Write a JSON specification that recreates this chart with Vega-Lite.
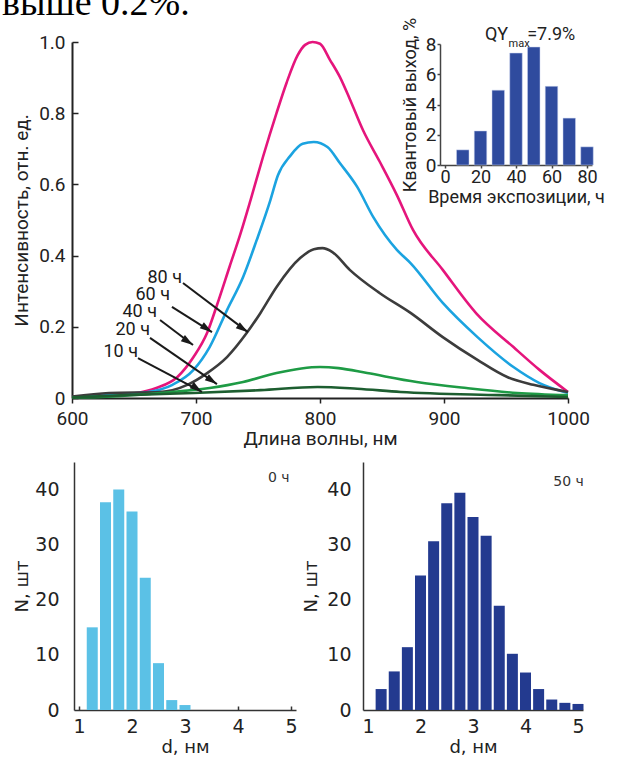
{
  "$schema": "https://vega.github.io/schema/vega-lite/v6.json",
  "autosize": {"type": "none"},
  "padding": 0,
  "width": 617,
  "height": 758,
  "background": "white",
  "config": {
    "view": {"stroke": null},
    "axis": {"grid": false, "titleFontWeight": "normal", "labelColor": "#222", "titleColor": "#222", "domainColor": "#222", "tickColor": "#222"}
  },
  "datasets": {
    "spectra": [
      {"t": "40 ч", "wl": 600, "I": 0.003}, {"t": "40 ч", "wl": 630, "I": 0.008}, {"t": "40 ч", "wl": 652, "I": 0.014}, {"t": "40 ч", "wl": 668, "I": 0.028}, {"t": "40 ч", "wl": 685, "I": 0.059}, {"t": "40 ч", "wl": 698, "I": 0.115}, {"t": "40 ч", "wl": 709, "I": 0.183}, {"t": "40 ч", "wl": 717, "I": 0.262}, {"t": "40 ч", "wl": 727, "I": 0.368}, {"t": "40 ч", "wl": 736, "I": 0.463}, {"t": "40 ч", "wl": 744, "I": 0.556}, {"t": "40 ч", "wl": 754, "I": 0.677}, {"t": "40 ч", "wl": 765, "I": 0.801}, {"t": "40 ч", "wl": 773, "I": 0.885}, {"t": "40 ч", "wl": 782, "I": 0.963}, {"t": "40 ч", "wl": 788, "I": 0.992}, {"t": "40 ч", "wl": 794, "I": 1.0}, {"t": "40 ч", "wl": 800, "I": 0.995}, {"t": "40 ч", "wl": 808, "I": 0.95}, {"t": "40 ч", "wl": 816, "I": 0.902}, {"t": "40 ч", "wl": 824, "I": 0.84}, {"t": "40 ч", "wl": 835, "I": 0.75}, {"t": "40 ч", "wl": 848, "I": 0.665}, {"t": "40 ч", "wl": 862, "I": 0.57}, {"t": "40 ч", "wl": 875, "I": 0.472}, {"t": "40 ч", "wl": 899, "I": 0.36}, {"t": "40 ч", "wl": 926, "I": 0.238}, {"t": "40 ч", "wl": 956, "I": 0.143}, {"t": "40 ч", "wl": 977, "I": 0.079}, {"t": "40 ч", "wl": 1000, "I": 0.017},
      {"t": "60 ч", "wl": 600, "I": 0.003}, {"t": "60 ч", "wl": 630, "I": 0.008}, {"t": "60 ч", "wl": 644, "I": 0.012}, {"t": "60 ч", "wl": 660, "I": 0.016}, {"t": "60 ч", "wl": 681, "I": 0.037}, {"t": "60 ч", "wl": 698, "I": 0.079}, {"t": "60 ч", "wl": 711, "I": 0.143}, {"t": "60 ч", "wl": 725, "I": 0.247}, {"t": "60 ч", "wl": 738, "I": 0.34}, {"t": "60 ч", "wl": 749, "I": 0.444}, {"t": "60 ч", "wl": 760, "I": 0.556}, {"t": "60 ч", "wl": 766, "I": 0.625}, {"t": "60 ч", "wl": 776, "I": 0.68}, {"t": "60 ч", "wl": 786, "I": 0.714}, {"t": "60 ч", "wl": 795, "I": 0.719}, {"t": "60 ч", "wl": 806, "I": 0.705}, {"t": "60 ч", "wl": 816, "I": 0.66}, {"t": "60 ч", "wl": 830, "I": 0.593}, {"t": "60 ч", "wl": 843, "I": 0.508}, {"t": "60 ч", "wl": 862, "I": 0.416}, {"t": "60 ч", "wl": 873, "I": 0.379}, {"t": "60 ч", "wl": 899, "I": 0.267}, {"t": "60 ч", "wl": 927, "I": 0.171}, {"t": "60 ч", "wl": 956, "I": 0.087}, {"t": "60 ч", "wl": 977, "I": 0.042}, {"t": "60 ч", "wl": 1000, "I": 0.014},
      {"t": "80 ч", "wl": 600, "I": 0.004}, {"t": "80 ч", "wl": 630, "I": 0.014}, {"t": "80 ч", "wl": 671, "I": 0.017}, {"t": "80 ч", "wl": 693, "I": 0.037}, {"t": "80 ч", "wl": 709, "I": 0.07}, {"t": "80 ч", "wl": 725, "I": 0.115}, {"t": "80 ч", "wl": 741, "I": 0.183}, {"t": "80 ч", "wl": 752, "I": 0.239}, {"t": "80 ч", "wl": 765, "I": 0.312}, {"t": "80 ч", "wl": 784, "I": 0.393}, {"t": "80 ч", "wl": 795, "I": 0.418}, {"t": "80 ч", "wl": 802, "I": 0.421}, {"t": "80 ч", "wl": 810, "I": 0.41}, {"t": "80 ч", "wl": 824, "I": 0.36}, {"t": "80 ч", "wl": 848, "I": 0.295}, {"t": "80 ч", "wl": 873, "I": 0.239}, {"t": "80 ч", "wl": 899, "I": 0.171}, {"t": "80 ч", "wl": 927, "I": 0.107}, {"t": "80 ч", "wl": 951, "I": 0.059}, {"t": "80 ч", "wl": 972, "I": 0.037}, {"t": "80 ч", "wl": 1000, "I": 0.017},
      {"t": "20 ч", "wl": 600, "I": 0.001}, {"t": "20 ч", "wl": 640, "I": 0.006}, {"t": "20 ч", "wl": 671, "I": 0.014}, {"t": "20 ч", "wl": 711, "I": 0.028}, {"t": "20 ч", "wl": 738, "I": 0.045}, {"t": "20 ч", "wl": 765, "I": 0.07}, {"t": "20 ч", "wl": 785, "I": 0.083}, {"t": "20 ч", "wl": 800, "I": 0.087}, {"t": "20 ч", "wl": 815, "I": 0.084}, {"t": "20 ч", "wl": 838, "I": 0.07}, {"t": "20 ч", "wl": 878, "I": 0.045}, {"t": "20 ч", "wl": 918, "I": 0.028}, {"t": "20 ч", "wl": 959, "I": 0.014}, {"t": "20 ч", "wl": 1000, "I": 0.008},
      {"t": "10 ч", "wl": 600, "I": 0.001}, {"t": "10 ч", "wl": 644, "I": 0.008}, {"t": "10 ч", "wl": 698, "I": 0.014}, {"t": "10 ч", "wl": 752, "I": 0.022}, {"t": "10 ч", "wl": 798, "I": 0.031}, {"t": "10 ч", "wl": 830, "I": 0.026}, {"t": "10 ч", "wl": 865, "I": 0.017}, {"t": "10 ч", "wl": 945, "I": 0.008}, {"t": "10 ч", "wl": 1000, "I": 0.003}
    ],
    "arrows": [
      {"label": "80 ч", "lx": 688.7, "ly": 0.337, "x1": 689.5, "y1": 0.323, "x2": 741.9, "y2": 0.185},
      {"label": "60 ч", "lx": 679.0, "ly": 0.289, "x1": 680.6, "y1": 0.256, "x2": 712.9, "y2": 0.185},
      {"label": "40 ч", "lx": 668.5, "ly": 0.242, "x1": 671.0, "y1": 0.219, "x2": 697.6, "y2": 0.149},
      {"label": "20 ч", "lx": 662.9, "ly": 0.191, "x1": 662.9, "y1": 0.169, "x2": 716.9, "y2": 0.039},
      {"label": "10 ч", "lx": 653.2, "ly": 0.129, "x1": 653.2, "y1": 0.112, "x2": 704.8, "y2": 0.017}
    ],
    "qy": [
      {"t": 10, "qy": 1.0}, {"t": 20, "qy": 2.25}, {"t": 30, "qy": 4.95}, {"t": 40, "qy": 7.4},
      {"t": 50, "qy": 7.8}, {"t": 60, "qy": 5.2}, {"t": 70, "qy": 3.1}, {"t": 80, "qy": 1.2}
    ],
    "hist0": [
      {"d": 1.25, "n": 15}, {"d": 1.5, "n": 37.7}, {"d": 1.75, "n": 40}, {"d": 2.0, "n": 36},
      {"d": 2.25, "n": 24}, {"d": 2.5, "n": 8.5}, {"d": 2.75, "n": 1.8}, {"d": 3.0, "n": 0.9}
    ],
    "hist50": [
      {"d": 1.25, "n": 3.8}, {"d": 1.5, "n": 7}, {"d": 1.75, "n": 11.4}, {"d": 2.0, "n": 24.4},
      {"d": 2.25, "n": 30.6}, {"d": 2.5, "n": 37.5}, {"d": 2.75, "n": 39.4}, {"d": 3.0, "n": 35},
      {"d": 3.25, "n": 31.6}, {"d": 3.5, "n": 18.9}, {"d": 3.75, "n": 10.2}, {"d": 4.0, "n": 6.8},
      {"d": 4.25, "n": 3.8}, {"d": 4.5, "n": 1.9}, {"d": 4.75, "n": 1.3}, {"d": 5.0, "n": 1.1}
    ]
  },
  "layer": [
    {
      "layer": [
        {
          "data": {"name": "spectra"},
          "mark": {"type": "line", "interpolate": "monotone", "strokeWidth": 2.6},
          "encoding": {
            "x": {"field": "wl", "type": "quantitative",
              "scale": {"domain": [600, 1000], "range": [72, 568], "nice": false, "zero": false},
              "axis": {"title": "Длина волны, нм", "orient": "bottom", "offset": -360, "values": [600, 700, 800, 900, 1000], "format": "d",
                "labelFlush": false, "domainWidth": 2, "tickWidth": 1.5, "tickSize": 5, "labelPadding": 6,
                "labelFont": "Roboto", "labelFontSize": 19, "titleFont": "Roboto", "titleFontSize": 19, "titlePadding": 1}},
            "y": {"field": "I", "type": "quantitative",
              "scale": {"domain": [0, 1], "range": [398, 42], "nice": false},
              "axis": {"title": "Интенсивность, отн. ед.", "orient": "left", "offset": -72, "values": [0, 0.2, 0.4, 0.6, 0.8, 1.0],
                "labelExpr": "datum.value == 0 ? '0' : format(datum.value, '.1f')",
                "domainWidth": 2, "tickWidth": 1.5, "tickSize": -6, "labelPadding": 13,
                "labelFont": "Roboto", "labelFontSize": 19, "titleFont": "Roboto", "titleFontSize": 19, "titlePadding": 7}},
            "color": {"field": "t", "type": "nominal",
              "scale": {"domain": ["40 ч", "60 ч", "80 ч", "20 ч", "10 ч"], "range": ["#e5157c", "#1ba3e0", "#3c3c3c", "#1e9b45", "#1d5e30"]},
              "legend": null}
          }
        },
        {
          "data": {"name": "arrows"},
          "mark": {"type": "rule", "color": "#1a1a1a", "strokeWidth": 2},
          "encoding": {
            "x": {"field": "x1", "type": "quantitative"},
            "y": {"field": "y1", "type": "quantitative"},
            "x2": {"field": "x2"},
            "y2": {"field": "y2"}
          }
        },
        {
          "data": {"name": "arrows"},
          "mark": {"type": "point", "shape": "M0,0L0.6,2L-0.6,2Z", "filled": true, "color": "#1a1a1a", "opacity": 1, "size": 150, "angle": 124},
          "encoding": {
            "x": {"field": "x2", "type": "quantitative"},
            "y": {"field": "y2", "type": "quantitative"}
          }
        },
        {
          "data": {"name": "arrows"},
          "mark": {"type": "text", "align": "right", "baseline": "middle", "font": "Roboto", "fontSize": 18, "color": "#1a1a1a"},
          "encoding": {
            "x": {"field": "lx", "type": "quantitative"},
            "y": {"field": "ly", "type": "quantitative"},
            "text": {"field": "label"}
          }
        },
        {
          "data": {"values": [{"text": "выше 0.2%.", "wl": 543.5, "I": 1.076}]},
          "mark": {"type": "text", "align": "left", "baseline": "alphabetic", "font": "Liberation Serif", "fontSize": 38, "color": "#000"},
          "encoding": {
            "x": {"field": "wl", "type": "quantitative"},
            "y": {"field": "I", "type": "quantitative"},
            "text": {"field": "text"}
          }
        }
      ]
    },
    {
      "layer": [
        {
          "data": {"name": "qy"},
          "mark": {"type": "bar", "width": 12.5, "color": "#2f4b9e", "stroke": "#c9d3ee", "strokeWidth": 0.5},
          "encoding": {
            "x": {"field": "t", "type": "quantitative",
              "scale": {"domain": [0, 80], "range": [440, 592], "nice": false},
              "axis": {"title": "Время экспозиции, ч", "orient": "bottom", "offset": -593, "values": [0, 20, 40, 60, 80], "format": "d",
                "labelFlush": false, "domainColor": "#444", "tickColor": "#444", "domainWidth": 1.5, "tickWidth": 1.5, "tickSize": 3, "labelPadding": 0,
                "labelFont": "Roboto", "labelFontSize": 18, "titleFont": "Roboto", "titleFontSize": 18, "titlePadding": 2}},
            "y": {"field": "qy", "type": "quantitative",
              "scale": {"domain": [0, 8], "range": [165, 44], "nice": false},
              "axis": {"title": "Квантовый выход, %", "orient": "left", "offset": -440, "values": [0, 2, 4, 6, 8], "format": "d",
                "domainColor": "#444", "tickColor": "#444", "domainWidth": 1.5, "tickWidth": 1.5, "tickSize": 3, "labelPadding": 1,
                "labelFont": "Roboto", "labelFontSize": 19, "titleFont": "Roboto", "titleFontSize": 18, "titlePadding": 6}}
          }
        },
        {
          "data": {"values": [{"txt": "QY", "x": 22.6, "y": 8.26}, {"txt": "=7.9%", "x": 46.3, "y": 8.26}]},
          "mark": {"type": "text", "align": "left", "baseline": "alphabetic", "font": "Roboto", "fontSize": 18, "color": "#222"},
          "encoding": {
            "x": {"field": "x", "type": "quantitative"},
            "y": {"field": "y", "type": "quantitative"},
            "text": {"field": "txt"}
          }
        },
        {
          "data": {"values": [{"txt": "max", "x": 35.8, "y": 7.8}]},
          "mark": {"type": "text", "align": "left", "baseline": "alphabetic", "font": "Roboto", "fontSize": 11, "color": "#222"},
          "encoding": {
            "x": {"field": "x", "type": "quantitative"},
            "y": {"field": "y", "type": "quantitative"},
            "text": {"field": "txt"}
          }
        }
      ]
    },
    {
      "layer": [
        {
          "data": {"name": "hist0"},
          "mark": {"type": "bar", "width": 11, "color": "#5bc1e6"},
          "encoding": {
            "x": {"field": "d", "type": "quantitative",
              "scale": {"domain": [1, 5], "range": [74, 296], "nice": false, "zero": false},
              "axis": {"title": "d, нм", "orient": "bottom", "offset": -48, "values": [1, 2, 3, 4, 5], "format": "d",
                "labelFlush": false, "domainColor": "#333", "tickColor": "#333", "domainWidth": 1.5, "tickWidth": 1.5, "tickSize": -4, "labelPadding": 11,
                "labelFont": "DejaVu Sans", "labelFontSize": 19, "titleFont": "DejaVu Sans", "titleFontSize": 18, "titlePadding": 2}},
            "y": {"field": "n", "type": "quantitative",
              "scale": {"domain": [0, 45], "range": [710, 462], "nice": false},
              "axis": {"title": "N, шт", "orient": "left", "offset": -74, "values": [0, 10, 20, 30, 40], "format": "d", "ticks": false,
                "domainColor": "#333", "domainWidth": 1.5, "labelPadding": 15,
                "labelFont": "DejaVu Sans", "labelFontSize": 19, "titleFont": "DejaVu Sans", "titleFontSize": 18, "titlePadding": 3}}
          }
        },
        {
          "data": {"values": [{"txt": "0 ч", "x": 4.77, "y": 42.1}]},
          "mark": {"type": "text", "align": "center", "baseline": "middle", "font": "DejaVu Sans", "fontSize": 14, "color": "#333"},
          "encoding": {
            "x": {"field": "x", "type": "quantitative"},
            "y": {"field": "y", "type": "quantitative"},
            "text": {"field": "txt"}
          }
        }
      ]
    },
    {
      "layer": [
        {
          "data": {"name": "hist50"},
          "mark": {"type": "bar", "width": 11, "color": "#233a8f"},
          "encoding": {
            "x": {"field": "d", "type": "quantitative",
              "scale": {"domain": [1, 5], "range": [363, 583], "nice": false, "zero": false},
              "axis": {"title": "d, нм", "orient": "bottom", "offset": -48, "values": [1, 2, 3, 4, 5], "format": "d",
                "labelFlush": false, "domainColor": "#333", "domainWidth": 1.5, "ticks": false, "labelPadding": 7,
                "labelFont": "DejaVu Sans", "labelFontSize": 19, "titleFont": "DejaVu Sans", "titleFontSize": 18, "titlePadding": 2}},
            "y": {"field": "n", "type": "quantitative",
              "scale": {"domain": [0, 45], "range": [710, 462], "nice": false},
              "axis": {"title": "N, шт", "orient": "left", "offset": -363, "values": [0, 10, 20, 30, 40], "format": "d", "ticks": false,
                "domainColor": "#333", "domainWidth": 1.5, "labelPadding": 12,
                "labelFont": "DejaVu Sans", "labelFontSize": 19, "titleFont": "DejaVu Sans", "titleFontSize": 18, "titlePadding": 6}}
          }
        },
        {
          "data": {"values": [{"txt": "50 ч", "x": 4.82, "y": 41.4}]},
          "mark": {"type": "text", "align": "center", "baseline": "middle", "font": "DejaVu Sans", "fontSize": 14, "color": "#333"},
          "encoding": {
            "x": {"field": "x", "type": "quantitative"},
            "y": {"field": "y", "type": "quantitative"},
            "text": {"field": "txt"}
          }
        }
      ]
    }
  ],
  "resolve": {"scale": {"x": "independent", "y": "independent"}, "axis": {"x": "independent", "y": "independent"}}
}
